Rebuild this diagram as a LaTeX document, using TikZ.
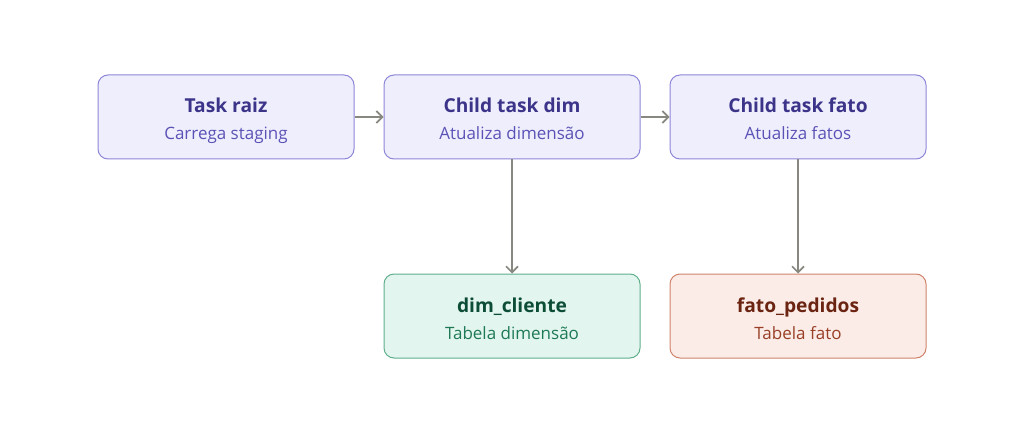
\documentclass[tikz,border=0pt]{standalone}
\usepackage{fontspec}
\setmainfont{Open Sans}
\usetikzlibrary{arrows.meta}
\definecolor{pfill}{HTML}{EEEEFD}
\definecolor{pdraw}{HTML}{8E86D8}
\definecolor{ptitle}{HTML}{3C3489}
\definecolor{psub}{HTML}{5B52B6}
\definecolor{gfill}{HTML}{E2F5EE}
\definecolor{gdraw}{HTML}{5FAE8C}
\definecolor{gtitle}{HTML}{0C4D36}
\definecolor{gsub}{HTML}{1E7A56}
\definecolor{rfill}{HTML}{FBECE7}
\definecolor{rdraw}{HTML}{D0836B}
\definecolor{rtitle}{HTML}{6B2411}
\definecolor{rsub}{HTML}{983F26}
\definecolor{arr}{HTML}{888780}
\begin{document}
\begin{tikzpicture}[x=1pt,y=-1pt,
  box/.style={rounded corners=10pt, line width=1pt, minimum width=256pt, minimum height=84pt, inner sep=0pt},
  pbox/.style={box, fill=pfill, draw=pdraw},
  gbox/.style={box, fill=gfill, draw=gdraw},
  rbox/.style={box, fill=rfill, draw=rdraw},
  ttl/.style={font=\fontsize{19.2}{21}\selectfont\bfseries, anchor=base},
  sub/.style={font=\fontsize{17}{19}\selectfont, anchor=base},
  conn/.style={draw=arr, line width=1.7pt, -{Straight Barb[length=6pt,width=12pt,line width=1.7pt]}}
]
\useasboundingbox (0,0) rectangle (1024,422);
\node[pbox] (raiz) at (226,117) {};
\node[pbox] (dim) at (512,117) {};
\node[pbox] (fato) at (798,117) {};
\node[gbox] (cli) at (512,316) {};
\node[rbox] (ped) at (798,316) {};

\node[ttl, text=ptitle] (t1) at (226,113) {Task raiz};
\node[sub, text=psub] (s1) at (226,140) {Carrega staging};
\node[ttl, text=ptitle] (t2) at (512,113) {Child task dim};
\node[sub, text=psub] (s2) at (512,140) {Atualiza dimensão};
\node[ttl, text=ptitle] (t3) at (798,113) {Child task fato};
\node[sub, text=psub] (s3) at (798,140) {Atualiza fatos};
\node[ttl, text=gtitle] (t4) at (512,312) {dim\_cliente};
\node[sub, text=gsub] (s4) at (512,339) {Tabela dimensão};
\node[ttl, text=rtitle] (t5) at (798,312) {fato\_pedidos};
\node[sub, text=rsub] (s5) at (798,339) {Tabela fato};

\draw[conn] (raiz.east) -- (dim.west);
\draw[conn] (dim.east) -- (fato.west);
\draw[conn] (dim.south) -- (cli.north);
\draw[conn] (fato.south) -- (ped.north);
\end{tikzpicture}
\end{document}
